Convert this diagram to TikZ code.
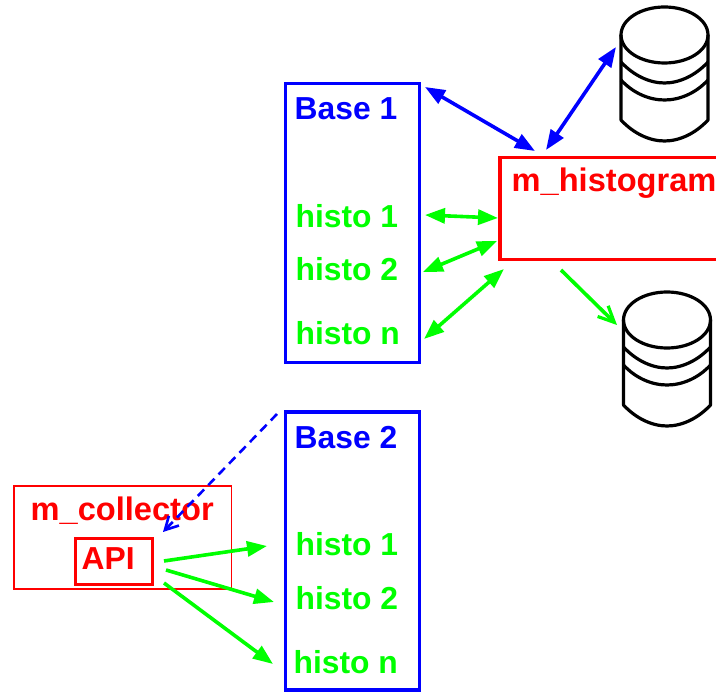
\documentclass[tikz,border=0pt]{standalone}
\usepackage{fontspec}
\setmainfont{Liberation Sans}
\usetikzlibrary{arrows.meta}
\definecolor{pblue}{RGB}{0,0,255}
\definecolor{pgreen}{RGB}{0,255,0}
\definecolor{pred}{RGB}{255,0,0}
\tikzset{
  x=1pt,y=-1pt,
  box/.style={draw,rectangle,inner sep=0pt,line width=3.6pt},
  lab/.style={anchor=base west,inner sep=0pt,font=\fontsize{31.8}{32}\bfseries\selectfont},
  labm/.style={anchor=base west,inner sep=0pt,font=\fontsize{32.6}{33}\bfseries\selectfont},
  filledtip/.style={-{Triangle[length=20pt,width=15pt]}},
  bothtip/.style={{Triangle[length=20pt,width=15pt]}-{Triangle[length=20pt,width=15pt]}},
  conn/.style={line width=3.6pt},
  db/.style={draw=black,line width=3.2pt,line join=round},
}
\newcommand{\dbdraw}[3]{%
  \begin{scope}[shift={(#1,#2)}]
    \node[minimum width=87pt,minimum height=134pt,inner sep=0pt] (#3) at (43.5,67) {};
    \draw[db] (43.5,28) ellipse [x radius=43.5,y radius=28];
    \draw[db] (0,28) -- (0,113) .. controls (12,126) and (28,134) .. (43.5,134) .. controls (59,134) and (75,126) .. (87,113) -- (87,28);
    \draw[db] (0,55) .. controls (12,68) and (28,76) .. (43.5,76) .. controls (59,76) and (75,68) .. (87,55);
    \draw[db] (0,73) .. controls (12,86) and (28,93) .. (43.5,93) .. controls (59,93) and (75,86) .. (87,73);
  \end{scope}}
\begin{document}
\begin{tikzpicture}
\useasboundingbox (0,0) rectangle (716,692);
\clip (0,0) rectangle (716,692);
% boxes
\node[box,draw=pblue,minimum width=134pt,minimum height=279pt] (base1) at (352.5,223) {};
\node[box,draw=pblue,minimum width=134pt,minimum height=278pt] (base2) at (352.5,551) {};
\node[box,draw=pred,minimum width=240pt,minimum height=102pt] (hist) at (620,208.5) {};
\node[draw=pred,line width=1.5pt,inner sep=0pt,minimum width=217.5pt,minimum height=103pt] (coll) at (122.5,537.5) {};
\node[box,draw=pred,line width=3.8pt,minimum width=77pt,minimum height=46pt] (api) at (114,561.5) {};
% texts
\node[lab,text=pblue] (b1t) at (294.5,119.5) {Base 1};
\node[lab,text=pgreen] (h11) at (295.5,227.5) {histo 1};
\node[lab,text=pgreen] (h12) at (295.5,280.5) {histo 2};
\node[lab,text=pgreen] (h1n) at (295.5,344.5) {histo n};
\node[lab,text=pblue] (b2t) at (294.5,448.5) {Base 2};
\node[lab,text=pgreen] (h21) at (295.5,555.5) {histo 1};
\node[lab,text=pgreen] (h22) at (295.5,609.5) {histo 2};
\node[lab,text=pgreen] (h2n) at (293.5,673.5) {histo n};
\node[labm,text=pred] (ht) at (511.5,191.5) {m\_histogram};
\node[labm,text=pred] (ct) at (30.5,520.5) {m\_collector};
\node[lab,text=pred] (at) at (81.5,569.5) {API};
% cylinders
\dbdraw{621}{7}{db1}
\dbdraw{623.5}{292}{db2}
% connector ends
\coordinate (a1) at (425,87);   \coordinate (a2) at (535,151);
\coordinate (b1) at (546,150);  \coordinate (b2) at (616,47);
\coordinate (c1) at (425,215);  \coordinate (c2) at (498,218);
\coordinate (d1) at (423,272);  \coordinate (d2) at (497,241);
\coordinate (e1) at (424,339);  \coordinate (e2) at (504,269);
\coordinate (f1) at (561,270);  \coordinate (f2) at (617,325);
\coordinate (g1) at (277,414);  \coordinate (g2) at (163,532);
\coordinate (i1) at (164,561);  \coordinate (i2) at (267,546);
\coordinate (j1) at (166,570);  \coordinate (j2) at (274,602);
\coordinate (k1) at (164,583);  \coordinate (k2) at (273,664);
% connectors
\draw[conn,pblue,bothtip] (a1) -- (a2);
\draw[conn,pblue,bothtip] (b1) -- (b2);
\draw[conn,pgreen,bothtip] (c1) -- (c2);
\draw[conn,pgreen,bothtip] (d1) -- (d2);
\draw[conn,pgreen,bothtip] (e1) -- (e2);
\draw[conn,pgreen,-{Straight Barb[length=16pt,width=15pt,line width=3.2pt]}] (f1) -- (f2);
\draw[pblue,line width=2.6pt,dash pattern=on 9pt off 6pt,-{Straight Barb[length=13pt,width=14pt,line width=2.6pt]}] (g1) -- (g2);
\draw[conn,pgreen,filledtip] (i1) -- (i2);
\draw[conn,pgreen,filledtip] (j1) -- (j2);
\draw[conn,pgreen,filledtip] (k1) -- (k2);
\end{tikzpicture}
\end{document}
